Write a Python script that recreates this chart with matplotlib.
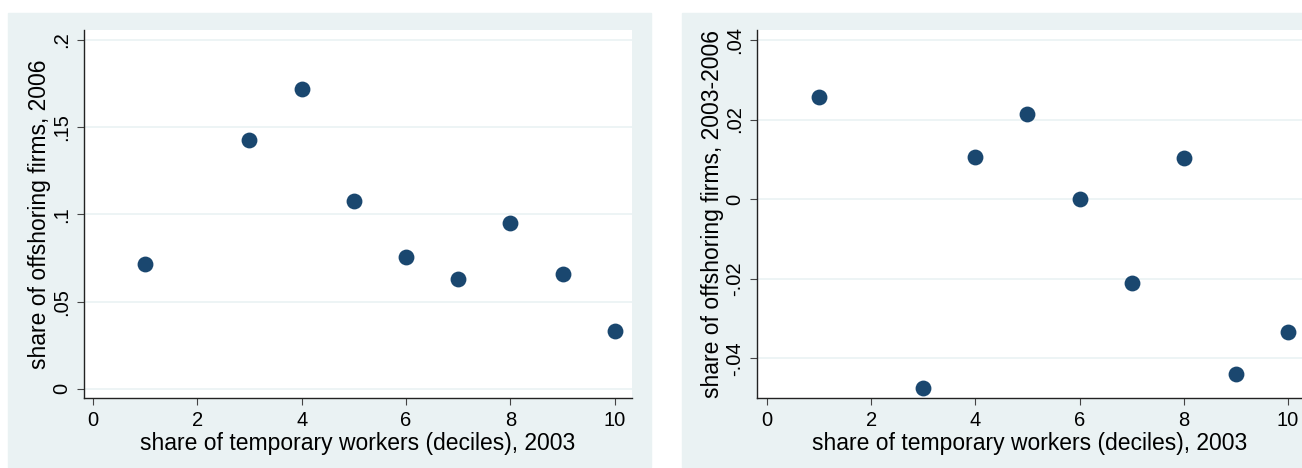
import matplotlib.pyplot as plt
from matplotlib.patches import Rectangle

plt.rcParams['font.family'] = ['Liberation Sans', 'DejaVu Sans']

deciles = [1, 3, 4, 5, 6, 7, 8, 9, 10]
share_2006 = [0.0716, 0.1427, 0.172, 0.1077, 0.0754, 0.0632, 0.0949, 0.0659, 0.0334]
change_03_06 = [0.0257, -0.0476, 0.0107, 0.0215, 0.0, -0.0210, 0.0104, -0.0439, -0.0333]

x_ticks = [0, 2, 4, 6, 8, 10]
left_yticks = [0, 0.05, 0.1, 0.15, 0.2]
left_ylabels = ["0", ".05", ".1", ".15", ".2"]
right_yticks = [-0.04, -0.02, 0, 0.02, 0.04]
right_ylabels = ["-.04", "-.02", "0", ".02", ".04"]

xlabel = "share of temporary workers (deciles), 2003"
left_title = "share of offshoring firms, 2006"
right_title = "share of offshoring firms, 2003-2006"

bg = "#EAF2F3"
dot = "#1A476F"
W, H = 1302, 468

fig = plt.figure(figsize=(W / 100, H / 100), dpi=100, facecolor="white")

# stata style outer panels
fig.patches.append(Rectangle((8 / W, 1 - 467 / H), 643 / W, 454 / H,
                             transform=fig.transFigure, color=bg, zorder=-10))
fig.patches.append(Rectangle((682 / W, 1 - 467 / H), 620 / W, 454 / H,
                             transform=fig.transFigure, color=bg, zorder=-10))

ax1 = fig.add_axes([84 / W, 70 / H, (632 - 84) / W, (398 - 30) / H])
ax2 = fig.add_axes([757 / W, 70 / H, (1302 - 757) / W, (398 - 30) / H])


def style(ax, y, yticks, ylabels, ylim, xlim, ylab):
    ax.set_facecolor("white")
    ax.scatter(deciles, y, s=130, color=dot, zorder=3, linewidths=0)
    ax.set_xlim(*xlim)
    ax.set_ylim(*ylim)
    ax.set_xticks(x_ticks)
    ax.set_yticks(yticks)
    ax.set_yticklabels(ylabels, rotation=90, va="center")
    for s in ["top", "right"]:
        ax.spines[s].set_visible(False)
    for s in ["left", "bottom"]:
        ax.spines[s].set_color("#222222")
        ax.spines[s].set_linewidth(1.0)
    ax.tick_params(direction="out", length=5, width=0.8, color="#444444",
                   labelsize=14.5, pad=4)
    ax.grid(axis="y", color=bg, linewidth=1.2, zorder=0)
    ax.set_axisbelow(True)
    ax.set_xlabel(xlabel, fontsize=16.5, labelpad=1.5)
    ax.set_ylabel(ylab, fontsize=16.5, labelpad=1)


style(ax1, share_2006, left_yticks, left_ylabels, (-0.0052, 0.2057), (-0.17, 10.33), left_title)
style(ax2, change_03_06, right_yticks, right_ylabels, (-0.050, 0.0425), (-0.19, 10.27), right_title)

fig.savefig("out.png", dpi=100, facecolor="white")
